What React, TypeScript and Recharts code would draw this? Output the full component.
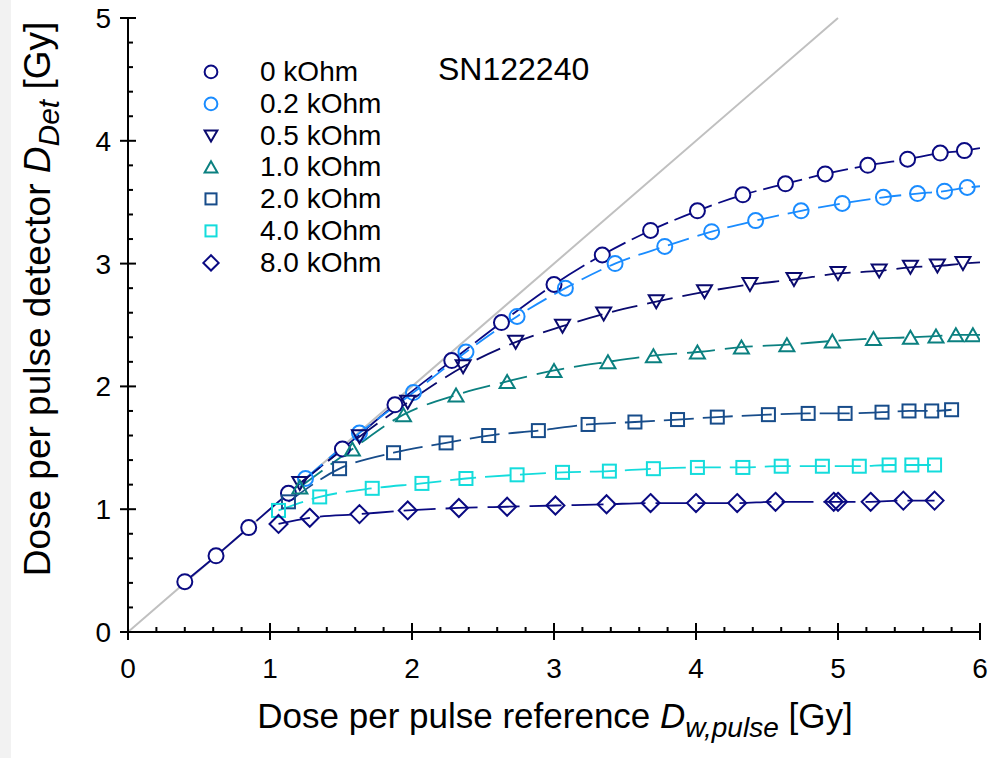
import React from 'react'
import { ComposedChart, Line, XAxis, YAxis, ReferenceLine } from 'recharts'

if (typeof document !== 'undefined') document.body.style.margin = '0'

const FONT = '"Liberation Sans", Arial, sans-serif'

// tick positions
const xTicks = [0, 0.2, 0.4, 0.6, 0.8, 1, 1.2, 1.4, 1.6, 1.8, 2, 2.2, 2.4, 2.6, 2.8, 3, 3.2, 3.4, 3.6, 3.8, 4, 4.2, 4.4, 4.6, 4.8, 5, 5.2, 5.4, 5.6, 5.8, 6]
const yTicks = [0, 0.2, 0.4, 0.6, 0.8, 1, 1.2, 1.4, 1.6, 1.8, 2, 2.2, 2.4, 2.6, 2.8, 3, 3.2, 3.4, 3.6, 3.8, 4, 4.2, 4.4, 4.6, 4.8, 5]

// 0 kOhm
const x0 = [0.4, 0.62, 0.85, 1.13, 1.51, 1.88, 2.28, 2.63, 3.0, 3.34, 3.68, 4.01, 4.33, 4.63, 4.91, 5.21, 5.49, 5.72, 5.89]
const y0 = [0.41, 0.62, 0.85, 1.13, 1.49, 1.85, 2.21, 2.52, 2.83, 3.07, 3.27, 3.43, 3.56, 3.65, 3.73, 3.8, 3.85, 3.9, 3.92]
// 0.2 kOhm
const x02 = [1.25, 1.63, 2.01, 2.38, 2.74, 3.08, 3.43, 3.78, 4.11, 4.42, 4.74, 5.03, 5.32, 5.56, 5.75, 5.91]
const y02 = [1.25, 1.62, 1.95, 2.28, 2.57, 2.8, 3.0, 3.14, 3.26, 3.35, 3.43, 3.49, 3.54, 3.57, 3.59, 3.62]
// 0.5 kOhm
const x05 = [1.21, 1.63, 1.97, 2.36, 2.73, 3.06, 3.35, 3.72, 4.06, 4.38, 4.69, 5.0, 5.29, 5.51, 5.7, 5.88]
const y05 = [1.21, 1.59, 1.87, 2.16, 2.36, 2.49, 2.59, 2.69, 2.77, 2.83, 2.87, 2.92, 2.94, 2.97, 2.98, 3.0]
// 1.0 kOhm
const x10 = [1.21, 1.58, 1.94, 2.31, 2.67, 3.0, 3.38, 3.7, 4.01, 4.32, 4.64, 4.96, 5.25, 5.51, 5.69, 5.83, 5.95]
const y10 = [1.18, 1.49, 1.77, 1.93, 2.04, 2.13, 2.2, 2.25, 2.28, 2.32, 2.34, 2.37, 2.39, 2.4, 2.41, 2.42, 2.42]
// 2.0 kOhm
const x20 = [1.13, 1.49, 1.87, 2.24, 2.54, 2.89, 3.24, 3.57, 3.87, 4.15, 4.51, 4.79, 5.05, 5.31, 5.5, 5.66, 5.8]
const y20 = [1.06, 1.33, 1.46, 1.54, 1.6, 1.64, 1.69, 1.71, 1.73, 1.75, 1.77, 1.78, 1.78, 1.79, 1.8, 1.8, 1.81]
// 4.0 kOhm
const x40 = [1.06, 1.35, 1.72, 2.07, 2.38, 2.74, 3.06, 3.39, 3.7, 4.01, 4.33, 4.6, 4.89, 5.15, 5.36, 5.52, 5.68]
const y40 = [0.99, 1.1, 1.17, 1.21, 1.25, 1.28, 1.3, 1.31, 1.33, 1.34, 1.34, 1.35, 1.35, 1.35, 1.36, 1.36, 1.36]
// 8.0 kOhm
const x80 = [1.06, 1.28, 1.63, 1.97, 2.33, 2.67, 3.01, 3.37, 3.68, 4.0, 4.29, 4.56, 4.97, 5.0, 5.23, 5.46, 5.68]
const y80 = [0.88, 0.93, 0.96, 0.99, 1.01, 1.02, 1.03, 1.04, 1.05, 1.05, 1.05, 1.06, 1.06, 1.06, 1.06, 1.07, 1.07]

// where the fitted curves run out at the right edge (null = curve stops at last point)
const tailY = [3.94, 3.63, 3.01, 2.42, null, null, null]

type Shape = 'circle' | 'down' | 'up' | 'square' | 'diamond'

const series: { name: string; xs: number[]; ys: number[]; color: string; shape: Shape; fill: string; dash?: string }[] = [
  { name: '0 kOhm', xs: x0, ys: y0, color: '#0a0a82', shape: 'circle', fill: '#fff', dash: '40 7' },
  { name: '0.2 kOhm', xs: x02, ys: y02, color: '#1a8cff', shape: 'circle', fill: 'none', dash: '22 9' },
  { name: '0.5 kOhm', xs: x05, ys: y05, color: '#0a0a6e', shape: 'down', fill: 'none', dash: '26 10' },
  { name: '1.0 kOhm', xs: x10, ys: y10, color: '#0b8080', shape: 'up', fill: 'none', dash: '28 10' },
  { name: '2.0 kOhm', xs: x20, ys: y20, color: '#174c8a', shape: 'square', fill: 'none', dash: '30 9' },
  { name: '4.0 kOhm', xs: x40, ys: y40, color: '#14dcdc', shape: 'square', fill: 'none', dash: '26 9' },
  { name: '8.0 kOhm', xs: x80, ys: y80, color: '#0a0a82', shape: 'diamond', fill: 'none', dash: '32 10' },
]

function Marker({ shape, cx, cy, color, fill, s = 1 }: { shape: Shape; cx: number; cy: number; color: string; fill: string; s?: number }) {
  const sw = 2
  if (shape === 'circle') return <circle cx={cx} cy={cy} r={7.5 * s} fill={fill} stroke={color} strokeWidth={sw} />
  if (shape === 'square') {
    const h = 6.5 * s
    return <rect x={cx - h} y={cy - h} width={2 * h} height={2 * h} fill={fill} stroke={color} strokeWidth={sw} />
  }
  if (shape === 'diamond') {
    const h = 9 * s
    return <polygon points={`${cx},${cy - h} ${cx + h},${cy} ${cx},${cy + h} ${cx - h},${cy}`} fill={fill} stroke={color} strokeWidth={sw} />
  }
  const w = 7.5 * s
  const h = 6.5 * s
  if (shape === 'down')
    return <polygon points={`${cx - w},${cy - h} ${cx + w},${cy - h} ${cx},${cy + h}`} fill={fill} stroke={color} strokeWidth={sw} />
  return <polygon points={`${cx - w},${cy + h} ${cx + w},${cy + h} ${cx},${cy - h}`} fill={fill} stroke={color} strokeWidth={sw} />
}

const isMajor = (v: number) => Math.abs(v - Math.round(v)) < 1e-6

const BottomTick = ({ x, y, payload }: any) => {
  const major = isMajor(payload.value)
  return (
    <g>
      <line x1={x} x2={x} y1={major ? y - 9 : y - 5} y2={major ? y + 8 : y} stroke="#000" strokeWidth={2} />
      {major && (
        <text x={x} y={y + 46} textAnchor="middle" fontSize={28} fontFamily={FONT} fill="#000">
          {payload.value}
        </text>
      )}
    </g>
  )
}

const LeftTick = ({ x, y, payload }: any) => {
  const major = isMajor(payload.value)
  return (
    <g>
      <line x1={major ? x - 8 : x} x2={major ? x + 8 : x + 5} y1={y} y2={y} stroke="#000" strokeWidth={2} />
      {major && (
        <text x={x - 17} y={y + 10} textAnchor="end" fontSize={28} fontFamily={FONT} fill="#000">
          {payload.value}
        </text>
      )}
    </g>
  )
}

const TopTick = ({ x, y, payload }: any) => {
  const major = isMajor(payload.value)
  return <line x1={x} x2={x} y1={y} y2={y + (major ? 8 : 5)} stroke="#000" strokeWidth={2} />
}

const RightTick = ({ x, y, payload }: any) => {
  const major = isMajor(payload.value)
  return <line x1={x} x2={x - (major ? 8 : 5)} y1={y} y2={y} stroke="#000" strokeWidth={2} />
}

export default function App() {
  const lines = series.map((s, i) => {
    const pts: any[] = s.xs.map((x, j) => ({ x, y: s.ys[j] }))
    if (tailY[i] != null) pts.push({ x: 6, y: tailY[i], tail: true })
    return { ...s, pts }
  })

  return (
    <div style={{ position: 'relative', width: 1001, height: 758, background: '#fff', fontFamily: FONT }}>
      <div style={{ position: 'absolute', left: 0, top: 0, width: 11, height: 758, background: '#f2f2f2' }} />
      <ComposedChart width={1001} height={758} margin={{ top: 18, right: 21, bottom: 0, left: 0 }}>
        <XAxis
          dataKey="x"
          type="number"
          domain={[0, 6]}
          ticks={xTicks}
          interval={0}
          tickSize={0}
          tickMargin={0}
          tickLine={false}
          tick={<BottomTick />}
          axisLine={{ stroke: '#000', strokeWidth: 2 }}
          height={126}
          allowDataOverflow
        />
        <XAxis
          xAxisId="top"
          orientation="top"
          dataKey="x"
          type="number"
          domain={[0, 6]}
          ticks={xTicks}
          interval={0}
          tickSize={0}
          tickMargin={0}
          tickLine={false}
          tick={<TopTick />}
          axisLine={{ stroke: '#000', strokeWidth: 2 }}
          height={0}
          allowDataOverflow
        />
        <YAxis
          type="number"
          domain={[0, 5]}
          ticks={yTicks}
          interval={0}
          tickSize={0}
          tickMargin={0}
          tickLine={false}
          tick={<LeftTick />}
          axisLine={{ stroke: '#000', strokeWidth: 2 }}
          width={128}
          allowDataOverflow
        />
        <YAxis
          yAxisId="right"
          orientation="right"
          type="number"
          domain={[0, 5]}
          ticks={yTicks}
          interval={0}
          tickSize={0}
          tickMargin={0}
          tickLine={false}
          tick={<RightTick />}
          axisLine={{ stroke: '#000', strokeWidth: 2 }}
          width={0}
          allowDataOverflow
        />
        <ReferenceLine
          segment={[
            { x: 0, y: 0 },
            { x: 5, y: 5 },
          ]}
          stroke="#c0c0c0"
          strokeWidth={2}
        />
        {lines.map((s) => (
          <Line
            key={s.name}
            data={s.pts}
            dataKey="y"
            type="monotone"
            stroke={s.color}
            strokeWidth={1.8}
            strokeDasharray={s.dash}
            isAnimationActive={false}
            activeDot={false}
            dot={(p: any) =>
              p.payload.tail ? (
                <g key={`${s.name}-${p.index}`} />
              ) : (
                <Marker key={`${s.name}-${p.index}`} shape={s.shape} cx={p.cx} cy={p.cy} color={s.color} fill={s.fill} />
              )
            }
          />
        ))}
      </ComposedChart>

      {/* axis titles */}
      <svg width={1001} height={758} style={{ position: 'absolute', left: 0, top: 0, pointerEvents: 'none' }}>
        <text x={555} y={728} textAnchor="middle" fontSize={35} fontFamily={FONT} fill="#000">
          Dose per pulse reference{' '}
          <tspan fontStyle="italic">D</tspan>
          <tspan fontStyle="italic" fontSize={28} dy={9}>
            w,pulse
          </tspan>
          <tspan dy={-9}> [Gy]</tspan>
        </text>
        <text
          transform="translate(50,299) rotate(-90)"
          x={0}
          y={0}
          textAnchor="middle"
          fontSize={37}
          fontFamily={FONT}
          fill="#000"
        >
          Dose per pulse detector{' '}
          <tspan fontStyle="italic">D</tspan>
          <tspan fontStyle="italic" fontSize={30} dy={9}>
            Det
          </tspan>
          <tspan dy={-9}> [Gy]</tspan>
        </text>
        <text x={438} y={80} fontSize={32} fontFamily={FONT} fill="#000">
          SN122240
        </text>
      </svg>

      {/* legend */}
      <div style={{ position: 'absolute', left: 196, top: 56, fontSize: 28, fontFamily: FONT, color: '#000' }}>
        {series.map((s) => (
          <div key={s.name} style={{ display: 'flex', alignItems: 'center', height: 31.8 }}>
            <svg width={30} height={31.8}>
              <Marker shape={s.shape} cx={15} cy={15.9} color={s.color} fill="none" s={0.85} />
            </svg>
            <span style={{ marginLeft: 34, lineHeight: '31.8px' }}>{s.name}</span>
          </div>
        ))}
      </div>
    </div>
  )
}
